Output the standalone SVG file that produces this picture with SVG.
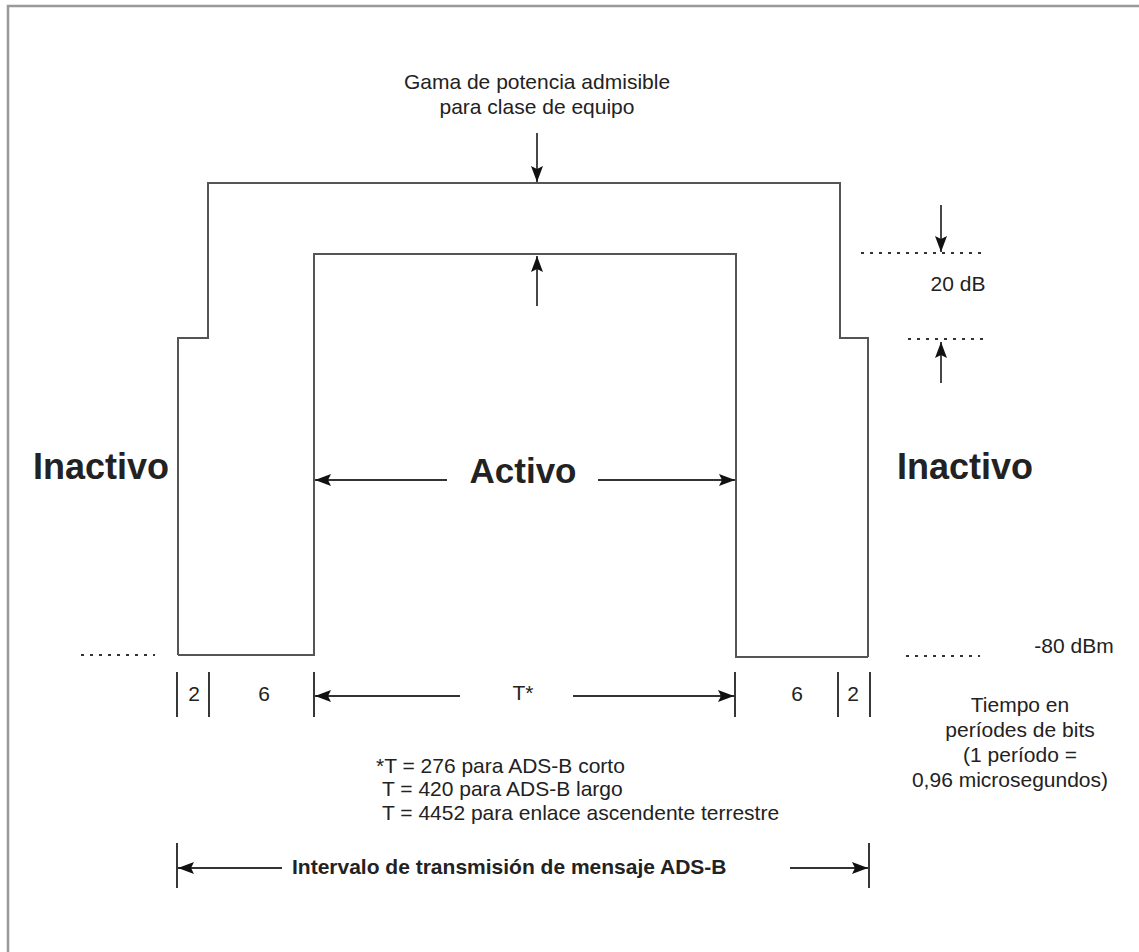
<svg xmlns="http://www.w3.org/2000/svg" width="1139" height="952" viewBox="0 0 1139 952">
<defs>
<marker id="ah" viewBox="0 0 16 12" refX="16" refY="6" markerWidth="16" markerHeight="12" markerUnits="userSpaceOnUse" orient="auto">
<path d="M0,0 L16,6 L0,12 L3,6 z" fill="#111"/>
</marker>
<style>
.t{font-family:"Liberation Sans",Arial,sans-serif;font-size:21px;fill:#222}
.b{font-weight:bold}
.big{font-family:"Liberation Sans",Arial,sans-serif;font-size:35px;font-weight:bold;fill:#222}
.in{font-size:36px}
.shape{fill:none;stroke:#555;stroke-width:2}
.ln{stroke:#222;stroke-width:1.8;fill:none}
.arr{stroke:#333;stroke-width:1.8;fill:none;marker-end:url(#ah)}
.dot{stroke:#333;stroke-width:2;stroke-dasharray:3,6;fill:none}
</style>
</defs>
<rect x="0" y="0" width="1139" height="952" fill="#fff"/>
<rect x="8" y="6" width="1150" height="970" fill="none" stroke="#999" stroke-width="2.5"/>

<g id="outer-envelope">
<polyline class="shape" points="178,655 178,338 208,338 208,183 840,183 840,338 868,338 868,657"/>
</g>
<g id="inner-envelope">
<polyline class="shape" points="178,655 314,655 314,254 736,254 736,657 868,657"/>
</g>

<g id="labels">
<text class="t" x="537" y="89" text-anchor="middle">Gama de potencia admisible</text>
<text class="t" x="537" y="114" text-anchor="middle">para clase de equipo</text>
<text class="t" x="958" y="291" text-anchor="middle">20 dB</text>
<text class="big in" x="33" y="479">Inactivo</text>
<text class="big in" x="897" y="479">Inactivo</text>
<text class="big" x="523" y="483" text-anchor="middle">Activo</text>
<text class="t" x="1074" y="653" text-anchor="middle">-80 dBm</text>
<text class="t" x="194" y="701" text-anchor="middle">2</text>
<text class="t" x="264" y="701" text-anchor="middle">6</text>
<text class="t" x="523" y="700" text-anchor="middle">T*</text>
<text class="t" x="797" y="701" text-anchor="middle">6</text>
<text class="t" x="853" y="701" text-anchor="middle">2</text>
<text class="t" x="1020" y="712" text-anchor="middle">Tiempo en</text>
<text class="t" x="1020" y="737" text-anchor="middle">períodes de bits</text>
<text class="t" x="1020" y="762" text-anchor="middle">(1 período =</text>
<text class="t" x="1010" y="787" text-anchor="middle">0,96 microsegundos)</text>
<text class="t" x="376" y="773">*T = 276 para ADS-B corto</text>
<text class="t" x="382" y="796">T = 420 para ADS-B largo</text>
<text class="t" x="382" y="820">T = 4452 para enlace ascendente terrestre</text>
<text class="t b" x="292" y="874">Intervalo de transmisión de mensaje ADS-B</text>
</g>

<g id="connectors">
<line class="arr" x1="537" y1="133" x2="537" y2="182"/>
<line class="arr" x1="537" y1="306" x2="537" y2="256"/>
<line class="arr" x1="941" y1="205" x2="941" y2="252"/>
<line class="arr" x1="941" y1="383" x2="941" y2="342"/>
<line class="dot" x1="861" y1="253" x2="985" y2="253"/>
<line class="dot" x1="908" y1="339" x2="985" y2="339"/>
<line class="dot" x1="81" y1="655" x2="155" y2="655"/>
<line class="dot" x1="906" y1="656" x2="980" y2="656"/>
<line class="arr" x1="447" y1="480" x2="315" y2="480"/>
<line class="arr" x1="598" y1="480" x2="735" y2="480"/>
<line class="ln" x1="177" y1="672" x2="177" y2="717"/>
<line class="ln" x1="209" y1="672" x2="209" y2="717"/>
<line class="ln" x1="314" y1="672" x2="314" y2="717"/>
<line class="ln" x1="735" y1="672" x2="735" y2="717"/>
<line class="ln" x1="838" y1="672" x2="838" y2="717"/>
<line class="ln" x1="870" y1="672" x2="870" y2="717"/>
<line class="arr" x1="460" y1="696" x2="315" y2="696"/>
<line class="arr" x1="573" y1="696" x2="734" y2="696"/>
<line class="ln" x1="177" y1="843" x2="177" y2="888"/>
<line class="ln" x1="869" y1="843" x2="869" y2="888"/>
<line class="arr" x1="282" y1="868" x2="178" y2="868"/>
<line class="arr" x1="790" y1="868" x2="868" y2="868"/>
</g>
</svg>
